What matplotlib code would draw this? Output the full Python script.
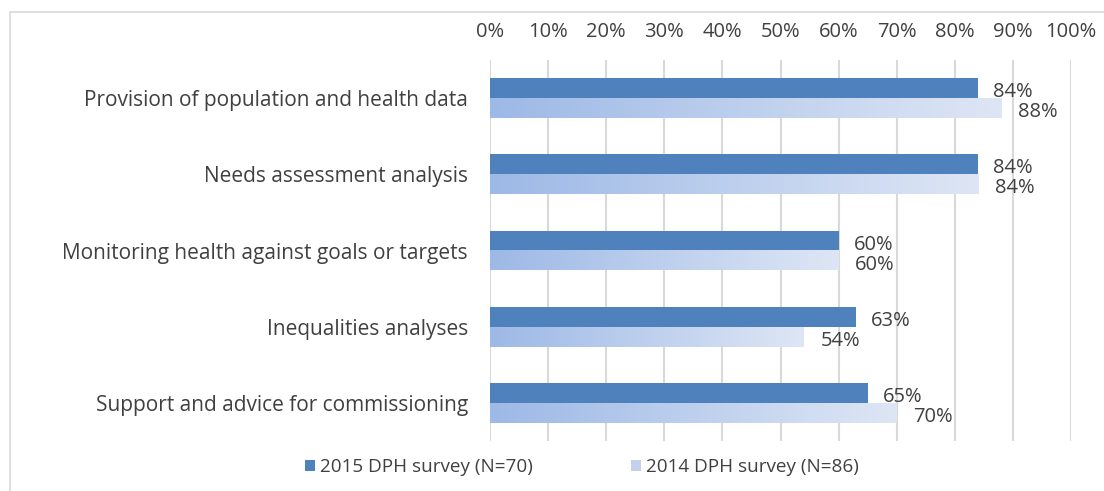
import numpy as np
import matplotlib.pyplot as plt
from matplotlib.patches import Rectangle, Patch

plt.rcParams['font.family'] = ['Open Sans', 'DejaVu Sans']

# data
categories = ["Provision of population and health data",
              "Needs assessment analysis",
              "Monitoring health against goals or targets",
              "Inequalities analyses",
              "Support and advice for commissioning"]
survey_2015 = [84, 84, 60, 63, 65]
survey_2014 = [88, 84, 60, 54, 70]
series_names = ["2015 DPH survey (N=70)", "2014 DPH survey (N=86)"]
ticks = list(range(0, 101, 10))

text_col = "#404040"
blue = "#4F81BD"
grad_left = np.array([157, 185, 230]) / 255
grad_right = np.array([222, 230, 245]) / 255

fig = plt.figure(figsize=(11.04, 4.91), dpi=100)
ax = fig.add_axes([490 / 1104, 1 - 441 / 491, 581 / 1104, 381 / 491])

# chart border
fig.patches.append(Rectangle((10 / 1104, -0.05), 1.2, 1 - 12 / 491 + 0.05,
                             transform=fig.transFigure, fill=False,
                             edgecolor="#D9D9D9", linewidth=1.2))

y = np.arange(len(categories))
h = 20 / 76.2
bars15 = ax.barh(y - h / 2, survey_2015, height=h, color=blue, zorder=3)
bars14 = ax.barh(y + h / 2, survey_2014, height=h, color="none", zorder=3)

# gradient fill for 2014 bars
grad = np.linspace(0, 1, 256)[None, :, None]
grad_img = grad_left * (1 - grad) + grad_right * grad
for p in bars14:
    x0, y0, w, hh = p.get_x(), p.get_y(), p.get_width(), p.get_height()
    ax.imshow(grad_img, extent=[x0, x0 + w, y0 + hh, y0], aspect="auto",
              zorder=3, interpolation="bilinear")

for p, v in zip(bars15, survey_2015):
    ax.annotate(f"{v}%", (p.get_width(), p.get_y() + p.get_height() / 2),
                xytext=(11, -3), textcoords="offset points",
                ha="left", va="center", fontsize=14.5, color=text_col)
for p, v in zip(bars14, survey_2014):
    ax.annotate(f"{v}%", (p.get_width(), p.get_y() + p.get_height() / 2),
                xytext=(12, -3), textcoords="offset points",
                ha="left", va="center", fontsize=14.5, color=text_col)

ax.set_xlim(0, 100)
ax.set_ylim(len(categories) - 0.5, -0.5)
ax.set_xticks(ticks)
ax.set_xticklabels([f"{t}%" for t in ticks])
ax.xaxis.tick_top()
ax.set_yticks(y)
ax.set_yticklabels(categories)
ax.tick_params(axis="x", length=0, pad=13, labelsize=14.5, labelcolor=text_col)
ax.tick_params(axis="y", length=0, pad=16, labelsize=15, labelcolor=text_col)
ax.grid(axis="x", color="#D9D9D9", linewidth=1.5, zorder=0)
ax.set_axisbelow(True)
for s in ax.spines.values():
    s.set_visible(False)

handles = [Patch(facecolor=blue), Patch(facecolor="#C3D1EE")]
fig.legend(handles, series_names, loc="center", bbox_to_anchor=(582 / 1104, 1 - 467 / 491),
           ncol=2, frameon=False, fontsize=13.6, labelcolor=text_col,
           handlelength=0.52, handleheight=0.52, handletextpad=0.25, columnspacing=5.2)

fig.savefig("out.png", dpi=100)
